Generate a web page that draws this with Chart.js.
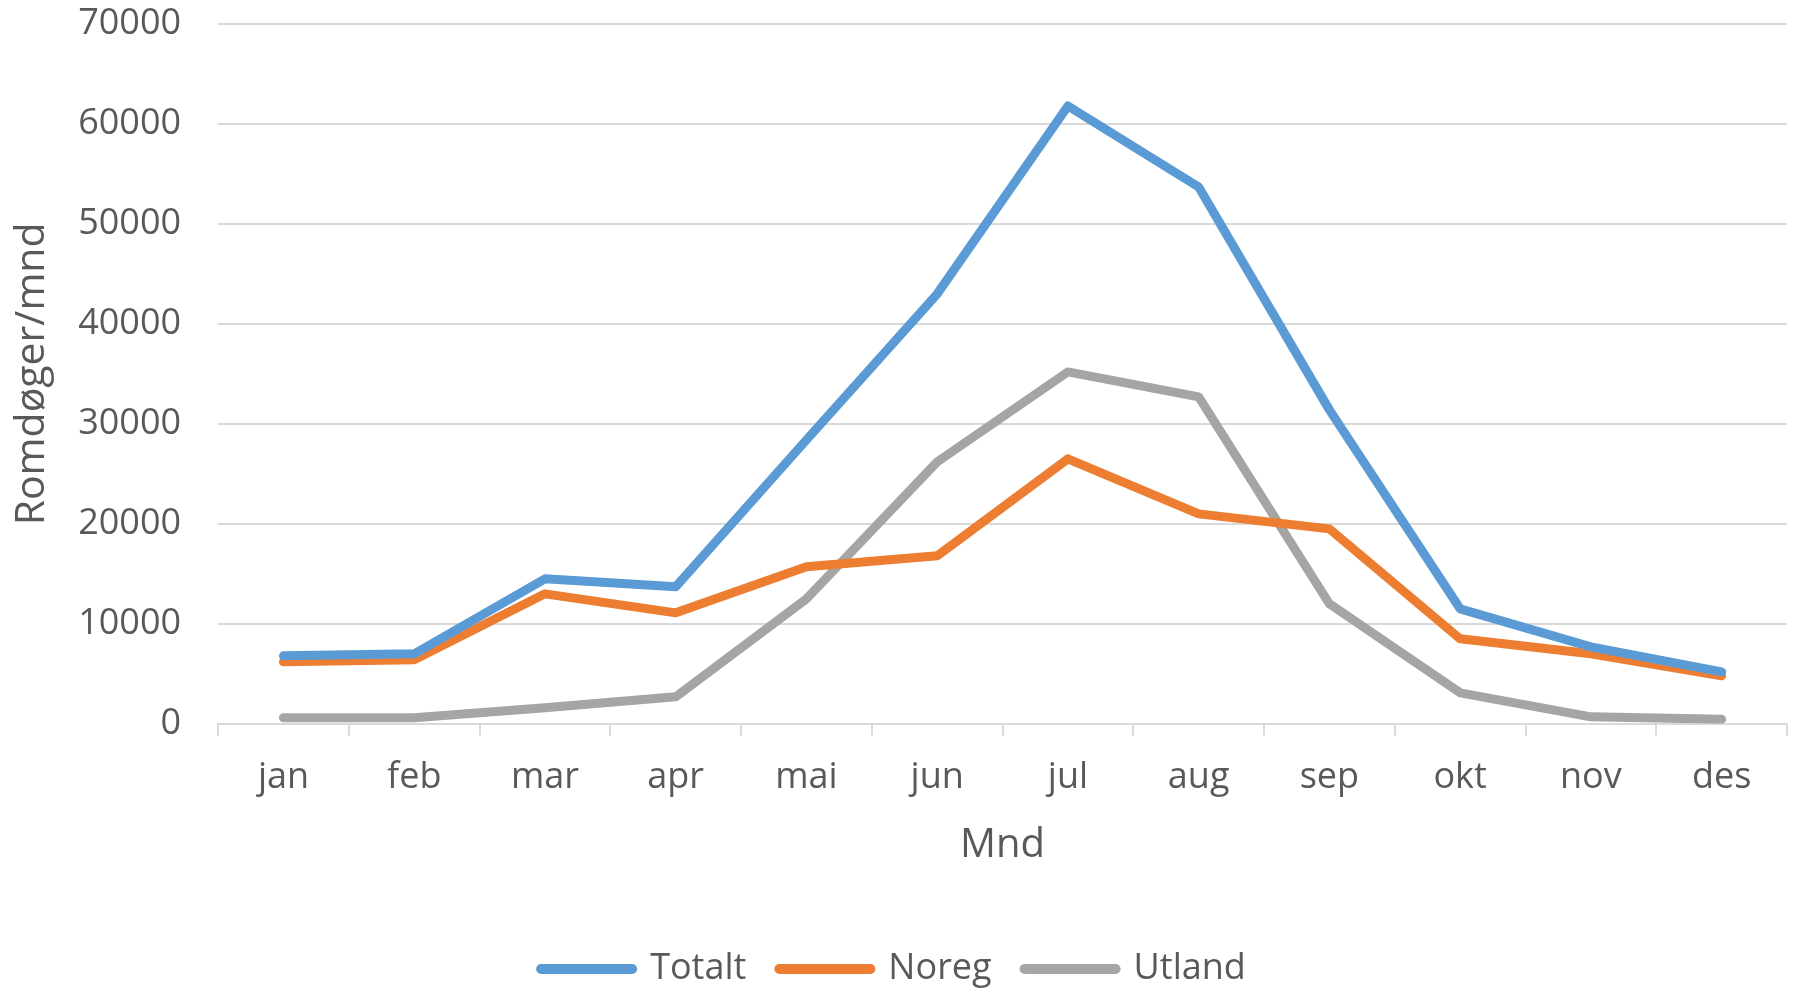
<!DOCTYPE html>
<html>
<head>
<meta charset="utf-8">
<script src="https://cdn.jsdelivr.net/npm/chart.js@4/dist/chart.umd.min.js"></script>
<style>
  html, body { margin: 0; padding: 0; background: #ffffff; }
  #wrap { width: 1802px; height: 988px; }
</style>
</head>
<body>
<div id="wrap"><canvas id="c" width="1802" height="988"></canvas></div>
<script>
const months = ['jan','feb','mar','apr','mai','jun','jul','aug','sep','okt','nov','des'];
const totalt = [6800, 7000, 14500, 13700, 28400, 43000, 61800, 53700, 31400, 11500, 7700, 5200];
const noreg  = [6200, 6400, 13000, 11100, 15700, 16800, 26500, 21000, 19500, 8500, 7000, 4800];
const utland = [600, 600, 1600, 2700, 12500, 26200, 35200, 32700, 12000, 3100, 700, 450];
const yTickValues = [0, 10000, 20000, 30000, 40000, 50000, 60000, 70000];
const yTitle = 'Romdøger/mnd';
const xTitle = 'Mnd';

const textColor = '#595959';
const gridColor = '#D9D9D9';
const fontFamily = '"Open Sans", "Noto Sans", sans-serif';

function ds(label, data, color) {
  return {
    label, data,
    borderColor: color, backgroundColor: color,
    borderWidth: 9, pointRadius: 0, pointHoverRadius: 0,
    tension: 0, fill: false,
    borderCapStyle: 'round', borderJoinStyle: 'round'
  };
}

new Chart(document.getElementById('c'), {
  type: 'line',
  data: {
    labels: months,
    datasets: [
      ds('Totalt', totalt, '#5B9BD5'),
      ds('Noreg', noreg, '#ED7D31'),
      ds('Utland', utland, '#A5A5A5')
    ]
  },
  options: {
    responsive: false,
    animation: false,
    devicePixelRatio: 1,
    layout: { padding: { left: 0, right: 15, top: 24, bottom: -9 } },
    plugins: {
      tooltip: { enabled: false },
      legend: {
        position: 'bottom',
        labels: {
          usePointStyle: true,
          pointStyle: 'line',
          pointStyleWidth: 91,
          padding: 33,
          color: textColor,
          font: { family: fontFamily, size: 36 },
          generateLabels: (chart) => {
            const items = Chart.defaults.plugins.legend.labels.generateLabels(chart);
            items.forEach(it => { it.lineWidth = 10; it.lineCap = 'round'; });
            return items;
          }
        }
      }
    },
    scales: {
      x: {
        offset: true,
        grid: {
          display: true, drawOnChartArea: false, drawTicks: true,
          tickLength: 12, offset: true, color: gridColor, lineWidth: 2
        },
        border: { display: true, color: gridColor, width: 2 },
        ticks: { color: textColor, font: { family: fontFamily, size: 36 }, padding: 20, maxRotation: 0 },
        title: {
          display: true, text: xTitle, color: textColor,
          font: { family: fontFamily, size: 40 },
          padding: { top: 3, bottom: 48 }
        }
      },
      y: {
        min: 0, max: 70000,
        afterBuildTicks: (axis) => { axis.ticks = yTickValues.map(v => ({ value: v })); },
        afterFit: (axis) => { axis.paddingTop = 0; axis.paddingBottom = 0; },
        grid: { color: gridColor, lineWidth: 2, drawTicks: false },
        border: { display: false },
        ticks: {
          color: textColor, font: { family: fontFamily, size: 36 }, padding: 37,
          callback: (v) => String(v)
        },
        title: {
          display: true, text: yTitle, color: textColor,
          font: { family: fontFamily, size: 41 },
          padding: { top: 8, bottom: -16 }
        }
      }
    }
  }
});
</script>
</body>
</html>
